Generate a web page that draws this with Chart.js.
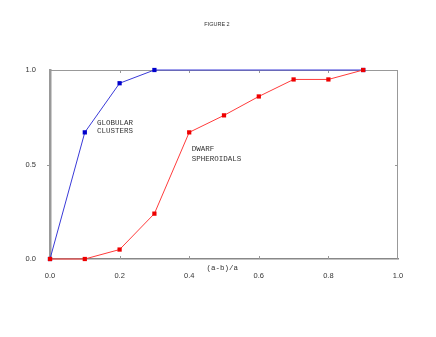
<!DOCTYPE html>
<html>
<head>
<meta charset="UTF-8">
<title>Figure 2</title>
<script src="https://cdn.jsdelivr.net/npm/chart.js"></script>
<style>
  html, body { margin: 0; padding: 0; background: #fff; }
  canvas { display: block; }
</style>
</head>
<body>
<canvas id="fig" width="436" height="337"></canvas>
<script>
// Daten
const globularX = [0.0, 0.1, 0.2, 0.3, 0.9];
const globularY = [0.0, 0.67, 0.93, 1.0, 1.0];
const dwarfX = [0.0, 0.1, 0.2, 0.3, 0.4, 0.5, 0.6, 0.7, 0.8, 0.9];
const dwarfY = [0.0, 0.0, 0.05, 0.24, 0.67, 0.76, 0.86, 0.95, 0.95, 1.0];
const xTicks = [0.0, 0.2, 0.4, 0.6, 0.8, 1.0];
const yTicks = [0.0, 0.5, 1.0];

const toPoints = (xs, ys) => xs.map((x, i) => ({ x: x, y: ys[i] }));

const labelFont = '7.5px "Liberation Mono", "DejaVu Sans Mono", monospace';

// Rahmen, Innen-Ticks und Beschriftungen zeichnen
const decorations = {
    id: 'decorations',
    beforeDatasetsDraw(chart) {
        const { ctx, chartArea: a, scales: { x, y } } = chart;
        ctx.save();
        ctx.strokeStyle = '#999';
        ctx.lineWidth = 1;
        ctx.beginPath();
        ctx.moveTo(a.left, a.top + 0.5); ctx.lineTo(a.right, a.top + 0.5);
        ctx.moveTo(a.right - 0.5, a.top); ctx.lineTo(a.right - 0.5, a.bottom);
        xTicks.slice(1, -1).forEach(v => {
            const px = Math.round(x.getPixelForValue(v)) + 0.5;
            ctx.moveTo(px, a.bottom); ctx.lineTo(px, a.bottom - 3);
            ctx.moveTo(px, a.top); ctx.lineTo(px, a.top + 3);
        });
        const py = Math.round(y.getPixelForValue(0.5)) + 0.5;
        ctx.moveTo(a.right, py); ctx.lineTo(a.right - 3, py);
        ctx.moveTo(a.left, py); ctx.lineTo(a.left - 3, py);
        ctx.stroke();
        ctx.restore();
    },
    afterDraw(chart) {
        const { ctx, scales: { x, y } } = chart;
        ctx.save();
        ctx.fillStyle = '#333';
        ctx.textBaseline = 'middle';
        ctx.font = '5.5px Arial, "Liberation Sans", sans-serif';
        ctx.textAlign = 'center';
        ctx.fillText('FIGURE 2', 217, 24);

        ctx.font = labelFont;
        ctx.textAlign = 'left';
        ctx.fillText('GLOBULAR', x.getPixelForValue(0.135), y.getPixelForValue(0.72));
        ctx.fillText('CLUSTERS', x.getPixelForValue(0.135), y.getPixelForValue(0.675));
        ctx.fillText('DWARF', x.getPixelForValue(0.407), y.getPixelForValue(0.58));
        ctx.fillText('SPHEROIDALS', x.getPixelForValue(0.407), y.getPixelForValue(0.53));
        ctx.fillText('(a-b)/a', x.getPixelForValue(0.45), 268);
        ctx.restore();
    }
};

new Chart(document.getElementById('fig').getContext('2d'), {
    type: 'scatter',
    data: {
        datasets: [
            {
                label: 'Dwarf spheroidals',
                data: toPoints(dwarfX, dwarfY),
                showLine: true,
                borderColor: '#ff3b3b',
                borderWidth: 1,
                backgroundColor: '#ee0000',
                pointBorderColor: '#ee0000',
                pointStyle: 'rect',
                pointRadius: 3,
                pointBorderWidth: 0,
                tension: 0,
                clip: false
            },
            {
                label: 'Globular clusters',
                data: toPoints(globularX, globularY),
                showLine: true,
                borderColor: '#3a3ad8',
                borderWidth: 1,
                backgroundColor: '#0000cc',
                pointBorderColor: '#0000cc',
                pointStyle: 'rect',
                pointRadius: 3,
                pointBorderWidth: 0,
                tension: 0,
                clip: false
            }
        ]
    },
    options: {
        responsive: false,
        animation: false,
        events: [],
        layout: { padding: { left: 0, top: 70, right: 38, bottom: 58 } },
        plugins: { legend: { display: false }, tooltip: { enabled: false } },
        scales: {
            x: {
                type: 'linear', min: 0, max: 1,
                afterFit: s => { s.height = 20; },
                afterBuildTicks: s => { s.ticks = xTicks.map(v => ({ value: v })); },
                grid: { display: false },
                border: { display: true, color: '#888', width: 1.5 },
                ticks: {
                    padding: 4, color: '#333',
                    font: { family: 'Arial, "Liberation Sans", sans-serif', size: 7.5 },
                    maxRotation: 0,
                    callback: v => v.toFixed(1)
                }
            },
            y: {
                type: 'linear', min: 0, max: 1,
                afterFit: s => { s.width = 50; },
                afterBuildTicks: s => { s.ticks = yTicks.map(v => ({ value: v })); },
                grid: { display: false },
                border: { display: true, color: '#999', width: 2.5 },
                ticks: {
                    padding: 6, color: '#333',
                    font: { family: 'Arial, "Liberation Sans", sans-serif', size: 7.5 },
                    callback: v => v.toFixed(1)
                }
            }
        }
    },
    plugins: [decorations]
});
</script>
</body>
</html>
